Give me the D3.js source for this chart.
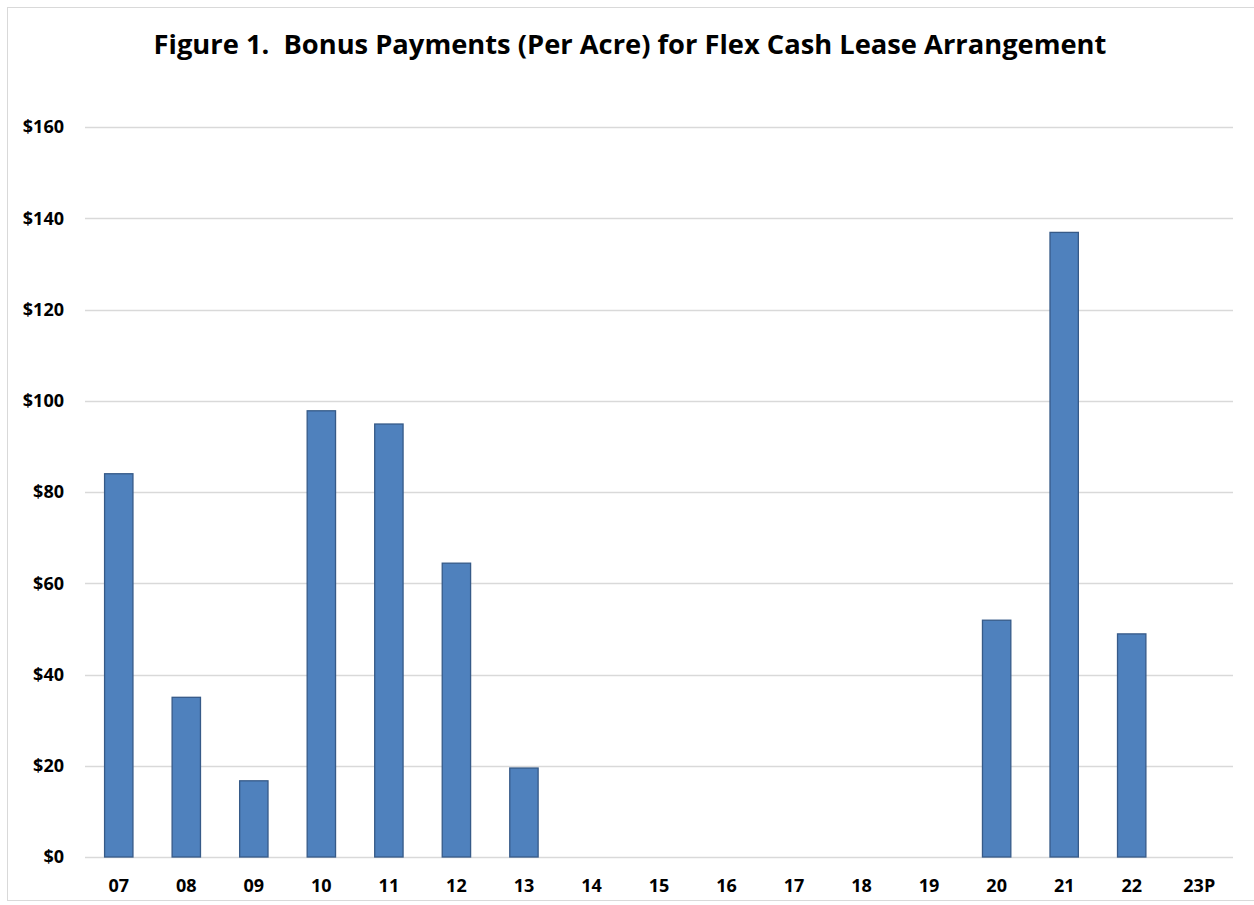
<!DOCTYPE html>
<html>
<head>
<meta charset="utf-8">
<script src="https://cdn.jsdelivr.net/npm/d3@7"></script>
<style>
    body { margin: 0; background: #fff; }
    .tick text { font-family: 'Open Sans', sans-serif; font-weight: bold; fill: #000; }
</style>
</head>
<body>
<script>

// DATA

const years = ['07', '08', '09', '10', '11', '12', '13', '14', '15', '16', '17', '18', '19', '20', '21', '22', '23P'];
const bonus = [84, 35, 16.7, 97.8, 94.9, 64.4, 19.5, 0, 0, 0, 0, 0, 0, 51.9, 136.9, 48.9, 0];
const yTicks = [0, 20, 40, 60, 80, 100, 120, 140, 160];

const width = 1254,
    height = 905,
    plotLeft = 85,
    plotRight = 1233,
    plotTop = 127,
    plotBottom = 857;

const svg = d3
    .select('body')
    .append('svg')
    .attr('width', width)
    .attr('height', height);

// frame
svg.append('rect')
    .attr('x', 7.5)
    .attr('y', 7.5)
    .attr('width', width)
    .attr('height', 893)
    .attr('fill', 'none')
    .attr('stroke', '#d9d9d9');

const x = d3.scaleBand()
    .domain(years)
    .range([plotLeft, plotRight])
    .paddingInner(0.58)
    .paddingOuter(0.29);

const y = d3.scaleLinear()
    .domain([0, 160])
    .range([plotBottom, plotTop]);

// gridlines
svg.append('g')
    .selectAll('line')
    .data(yTicks)
    .enter()
    .append('line')
    .attr('x1', plotLeft)
    .attr('x2', plotRight)
    .attr('y1', d => Math.round(y(d)) + 0.5)
    .attr('y2', d => Math.round(y(d)) + 0.5)
    .attr('stroke', '#d9d9d9')
    .attr('stroke-width', 1.5);

// bars (zero years draw nothing)
const rows = years.map((yr, i) => ({ year: yr, value: bonus[i] }));

svg.append('g')
    .selectAll('rect')
    .data(rows.filter(d => d.value > 0))
    .enter()
    .append('rect')
    .attr('x', d => x(d.year))
    .attr('y', d => y(d.value))
    .attr('width', x.bandwidth())
    .attr('height', d => y(0) - y(d.value))
    .attr('fill', '#4f81bd')
    .attr('stroke', '#365a88')
    .attr('stroke-width', 1.3);

// axes
const yAxis = svg.append('g')
    .attr('transform', 'translate(' + 64 + ',0)')
    .call(d3.axisLeft(y).tickValues(yTicks).tickSize(0).tickFormat(d => '$' + d));
yAxis.select('.domain').remove();
yAxis.selectAll('text').attr('font-size', 18).attr('x', 0);

const xAxis = svg.append('g')
    .attr('transform', 'translate(0,' + plotBottom + ')')
    .call(d3.axisBottom(x).tickSize(0));
xAxis.select('.domain').remove();
xAxis.selectAll('text').attr('font-size', 18).attr('y', 22);

// title
svg.append('text')
    .attr('x', 630)
    .attr('y', 54)
    .attr('text-anchor', 'middle')
    .attr('font-family', 'Open Sans, sans-serif')
    .attr('font-weight', 'bold')
    .attr('font-size', 27.3)
    .style('white-space', 'pre')
    .text('Figure 1.  Bonus Payments (Per Acre) for Flex Cash Lease Arrangement');

</script>
</body>
</html>
